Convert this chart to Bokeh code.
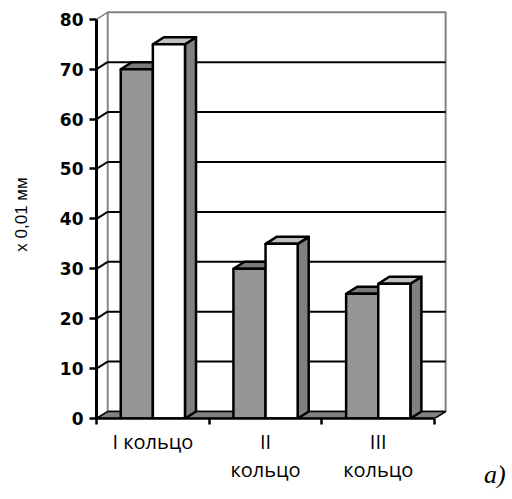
from bokeh.plotting import figure
from bokeh.layouts import row
from bokeh.models import Range1d, FixedTicker, ColumnDataSource, Div
from bokeh.embed import file_html
from bokeh.resources import INLINE

# ---- data ----
categories = ["I кольцо", "II\nкольцо", "III\nкольцо"]
series_a = [70, 30, 25]   # grey bars
series_b = [75, 35, 27]   # white bars
y_ticks = [0, 10, 20, 30, 40, 50, 60, 70, 80]
y_axis_title = "x 0,01 мм"
panel_tag = "a)"

# ---- styles ----
BAR_W = 0.285      # bar width in category units
DX = 0.098         # 3-D depth offset (x, category units)
DY = 1.40          # 3-D depth offset (y, value units)
GREY_FRONT = "#969696"
GREY_TOP = "#7a7a7a"
WHITE_TOP = "#c0c0c0"
SIDE = "#808080"
WALL_LINE = "#808080"

n = len(categories)
ymax = y_ticks[-1]

p = figure(width=470, height=497, output_backend="svg", toolbar_location=None,
           x_range=Range1d(0, 3.15), y_range=Range1d(0, 81.76),
           min_border_left=96, min_border_right=19, min_border_top=10, min_border_bottom=79)
p.grid.visible = False
p.outline_line_color = None
p.background_fill_color = "white"
p.border_fill_color = "white"

# back wall
p.patch([DX, n + DX, n + DX, DX], [DY, DY, ymax + DY, ymax + DY],
        fill_color="white", line_color=WALL_LINE, line_width=2)
# left wall
p.patch([0, DX, DX, 0], [0, DY, ymax + DY, ymax],
        fill_color="white", line_color=WALL_LINE, line_width=1.5)

# gridlines (back wall + left wall diagonals)
inner = y_ticks[1:-1]
p.segment(x0=[DX] * len(inner), y0=[v + DY for v in inner],
          x1=[n + DX] * len(inner), y1=[v + DY for v in inner],
          line_color="black", line_width=2)
p.segment(x0=[0] * len(inner), y0=inner,
          x1=[DX] * len(inner), y1=[v + DY for v in inner],
          line_color="black", line_width=2)

# floor
p.patch([0, n, n + DX, DX], [0, 0, DY, DY],
        fill_color=SIDE, line_color="black", line_width=1.5)

# bars
fronts = dict(left=[], right=[], top=[], color=[])
tops = dict(xs=[], ys=[], color=[])
sides = dict(xs=[], ys=[], color=[])
for i in range(n):
    for s, (vals, fcol, tcol) in enumerate([(series_a, GREY_FRONT, GREY_TOP),
                                            (series_b, "white", WHITE_TOP)]):
        v = vals[i]
        x0 = i + 0.5 - BAR_W + s * BAR_W
        x1 = x0 + BAR_W
        fronts["left"].append(x0); fronts["right"].append(x1)
        fronts["top"].append(v); fronts["color"].append(fcol)
        tops["xs"].append([x0, x1, x1 + DX, x0 + DX])
        tops["ys"].append([v, v, v + DY, v + DY])
        tops["color"].append(tcol)
        sides["xs"].append([x1, x1 + DX, x1 + DX, x1])
        sides["ys"].append([0, DY, v + DY, v])
        sides["color"].append(SIDE)

p.patches("xs", "ys", source=ColumnDataSource(sides), fill_color="color",
          line_color="black", line_width=2.5, line_join="round")
p.patches("xs", "ys", source=ColumnDataSource(tops), fill_color="color",
          line_color="black", line_width=2.5, line_join="round")
p.quad(left="left", right="right", bottom=0, top="top", source=ColumnDataSource(fronts),
       fill_color="color", line_color="black", line_width=2.5)

# x axis
xa = p.xaxis[0]
xa.ticker = FixedTicker(ticks=[i + 0.5 for i in range(n)], minor_ticks=list(range(n + 1)))
xa.major_label_overrides = {i + 0.5: c for i, c in enumerate(categories)}
xa.bounds = (0, n)
xa.axis_line_width = 2.5
xa.major_tick_line_color = None
xa.major_tick_out = 3
xa.minor_tick_line_color = "black"
xa.minor_tick_line_width = 2.5
xa.minor_tick_out = 6
xa.minor_tick_in = 0
xa.major_label_text_font = "Open Sans"
xa.major_label_text_font_size = "20px"
xa.major_label_text_color = "black"
xa.major_label_text_line_height = 1.05
xa.major_label_standoff = 3

# y axis
ya = p.yaxis[0]
ya.ticker = FixedTicker(ticks=y_ticks)
ya.bounds = (0, ymax)
ya.axis_line_width = 3
ya.major_tick_out = 7
ya.major_tick_in = 0
ya.major_tick_line_width = 2.5
ya.minor_tick_line_color = None
ya.major_label_text_font = "DejaVu Sans"
ya.major_label_text_font_style = "bold"
ya.major_label_text_font_size = "17px"
ya.major_label_text_color = "black"
ya.major_label_standoff = 6
ya.axis_label = y_axis_title
ya.axis_label_text_font = "Liberation Sans"
ya.axis_label_text_font_style = "normal"
ya.axis_label_text_font_size = "17px"
ya.axis_label_text_color = "black"
ya.axis_label_standoff = 26

# panel tag "a)" to the lower right of the chart
tag = Div(text=panel_tag, width=26, height=26, margin=(462, 0, 0, 14),
          styles={"font-family": "'Liberation Serif', serif", "font-style": "italic",
                  "font-size": "26px", "line-height": "26px", "color": "black"})

layout = row(p, tag)
open("out.html", "w").write(file_html(layout, INLINE))
